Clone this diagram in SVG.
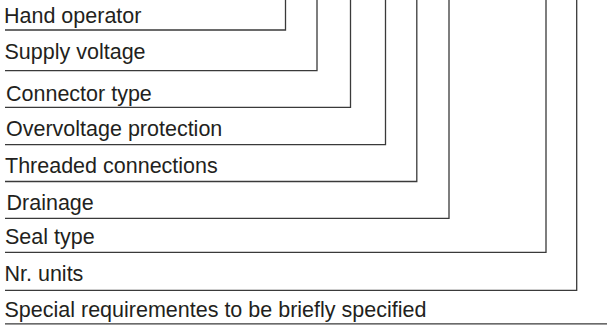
<svg xmlns="http://www.w3.org/2000/svg" width="607" height="327" viewBox="0 0 607 327">
<style>
.lbl{font-family:"Liberation Sans",Arial,Helvetica,sans-serif;font-size:21.5px;fill:#231f20}
.ln{fill:none;stroke:#3a3a3a;stroke-width:1.3}
</style>
<rect width="607" height="327" fill="#ffffff"/>
<g id="connectors">
<polyline class="ln" points="5,30 285.5,30 285.5,0"/>
<polyline class="ln" points="5,70.7 317,70.7 317,0"/>
<polyline class="ln" points="5,107.3 350.5,107.3 350.5,0"/>
<polyline class="ln" points="5,144.7 385.5,144.7 385.5,0"/>
<polyline class="ln" points="5,181.5 416.8,181.5 416.8,0"/>
<polyline class="ln" points="5,218.3 449,218.3 449,0"/>
<polyline class="ln" points="5,252.3 546,252.3 546,0"/>
<polyline class="ln" points="5,290.3 576.7,290.3 576.7,0"/>
<line class="ln" x1="5" y1="323.8" x2="607" y2="323.8"/>
</g>
<g id="hand-operator"><text class="lbl" x="4" y="23">Hand operator</text></g>
<g id="supply-voltage"><text class="lbl" x="4.5" y="59">Supply voltage</text></g>
<g id="connector-type"><text class="lbl" x="6" y="100.5">Connector type</text></g>
<g id="overvoltage-protection"><text class="lbl" x="6" y="135.5">Overvoltage protection</text></g>
<g id="threaded-connections"><text class="lbl" x="5" y="173">Threaded connections</text></g>
<g id="drainage"><text class="lbl" x="6.5" y="210">Drainage</text></g>
<g id="seal-type"><text class="lbl" x="5" y="244">Seal type</text></g>
<g id="nr-units"><text class="lbl" x="4.5" y="280.5">Nr. units</text></g>
<g id="special-requirements"><text class="lbl" x="4.5" y="317">Special requirementes to be briefly specified</text></g>
</svg>
